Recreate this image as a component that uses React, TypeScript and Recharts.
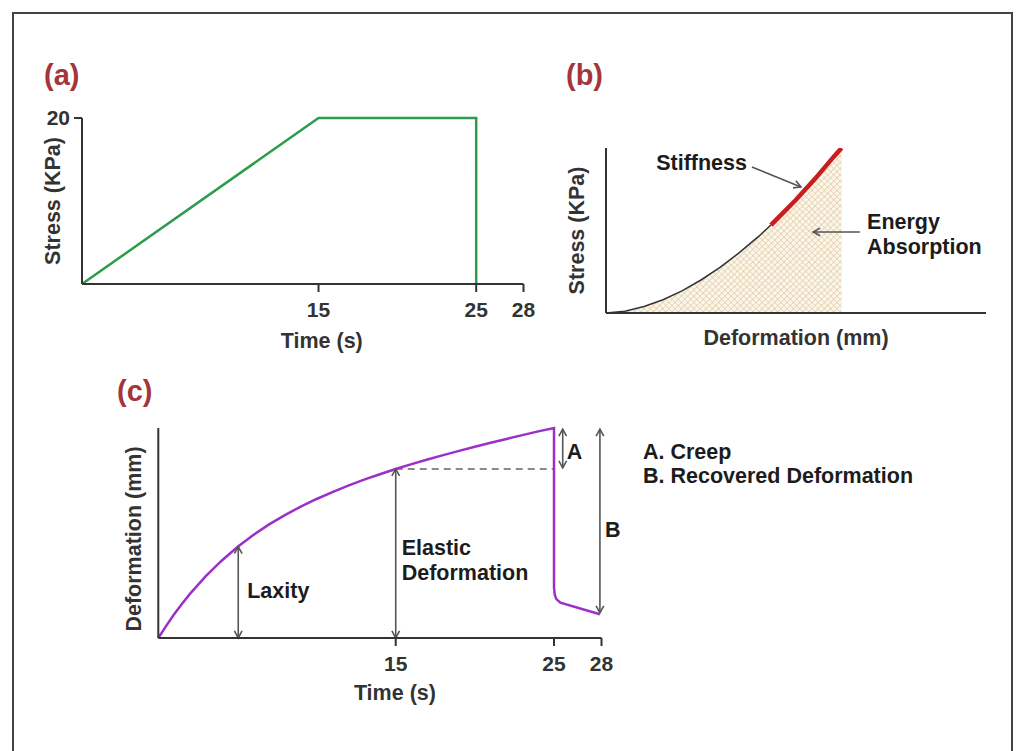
import React from 'react';
import { LineChart, ComposedChart, Line, Area, XAxis, YAxis, ReferenceLine, ReferenceDot } from 'recharts';

const W = 1018;
const H = 751;
const FONT = '"Liberation Sans", Arial, Helvetica, sans-serif';
const INK = '#1c1c1c';
const AXIS = '#333333';
const ARROW = '#555555';
const TITLE = '#a3353b';

// (a) applied stress over time
const aTime = [0, 15, 25, 25];
const aStress = [0, 20, 20, 0];
const aTicks = [15, 25, 28];

// (b) stress vs deformation, energy absorbed under the curve
const bDeform = [0, 5, 10, 15, 20, 25, 30, 35, 40, 43.4, 50, 55, 60, 62];
const bStress = [0, 1.1, 3.9, 8.0, 13.4, 20.0, 27.6, 36.4, 46.1, 53.3, 68.6, 81.3, 94.9, 100];
const bStiffFrom = 43.4;

// (c) deformation over time (creep then recovery)
const cTime = [0, 0.5, 1, 1.5, 2, 3, 4, 5, 6, 7, 8, 9, 10, 11, 12, 13, 14, 15, 16, 17, 18, 19, 20, 21, 22, 23, 24, 25, 25, 25.05, 25.15, 25.4, 27.9];
const cDeform = [0, 5.8, 11.3, 16.3, 21.0, 29.5, 36.8, 43.3, 49.0, 54.1, 58.5, 62.6, 66.2, 69.5, 72.6, 75.4, 78.0, 80.5, 82.8, 85.0, 87.1, 89.1, 91.1, 93.0, 94.8, 96.6, 98.4, 100, 24, 20.5, 18.5, 16.8, 11.3];
const cTicks = [15, 25, 28];
const cLaxityAt = 5.05;
const cElasticAt = 15;

const aData = aTime.map((t, i) => ({ t, s: aStress[i] }));
const bData = bDeform.map((x, i) => ({
  x,
  area: bStress[i],
  curve: x <= bStiffFrom ? bStress[i] : null,
  stiff: x >= bStiffFrom ? bStress[i] : null,
}));
const cData = cTime.map((t, i) => ({ t, d: cDeform[i] }));
const cAt = (t: number) => cDeform[cTime.indexOf(t)];

const tickStyle = { fill: '#333', fontSize: 21, fontWeight: 700 };
const axisLine = { stroke: AXIS, strokeWidth: 2 };
const titleLabel = { fill: '#333', fontSize: 21.5, fontWeight: 700 };

const Note = (props: any) => {
  const { viewBox, lines, anchor = 'start', dx = 0, dy = 0, lh = 25 } = props;
  if (!viewBox) return null;
  const x = viewBox.x + (viewBox.width || 0) / 2 + dx;
  const cy = viewBox.y + (viewBox.height || 0) / 2 + dy;
  return (
    <g>
      {lines.map((s: string, i: number) => (
        <text key={i} x={x} y={cy + (i - (lines.length - 1) / 2) * lh} textAnchor={anchor}
          dominantBaseline="central" fontSize={21.5} fontWeight={700} fill={INK}>{s}</text>
      ))}
    </g>
  );
};

const head = (x: number, y: number, ang: number) => {
  const L = 8, s = 0.5;
  return `M${x - L * Math.cos(ang - s)},${y - L * Math.sin(ang - s)} L${x},${y} L${x - L * Math.cos(ang + s)},${y - L * Math.sin(ang + s)}`;
};

const arrow = (both: boolean) => (p: any) => {
  const { x1, y1, x2, y2 } = p;
  const a = Math.atan2(y2 - y1, x2 - x1);
  return (
    <g>
      <line x1={x1} y1={y1} x2={x2} y2={y2} stroke={ARROW} strokeWidth={1.6} />
      <path d={head(x2, y2, a) + (both ? ' ' + head(x1, y1, a + Math.PI) : '')} fill="none" stroke={ARROW} strokeWidth={1.6} />
    </g>
  );
};

const Title = ({ text, left, top }: { text: string; left: number; top: number }) => (
  <div style={{ position: 'absolute', left, top, fontSize: 29, lineHeight: '30px', fontWeight: 700, color: TITLE }}>{text}</div>
);

const layer: React.CSSProperties = { position: 'absolute', left: 0, top: 0 };

export default function App() {
  return (
    <div style={{ position: 'absolute', left: 0, top: 0, width: W, height: H, overflow: 'hidden', background: '#fff', fontFamily: FONT }}>
      <div style={{ position: 'absolute', left: 12, top: 12, width: 1001, height: 800, border: '2px solid #444', boxSizing: 'border-box' }} />

      <Title text="(a)" left={44} top={60} />
      <Title text="(b)" left={566} top={60} />
      <Title text="(c)" left={117} top={376} />

      <div style={layer}>
        <LineChart width={W} height={H} data={aData} margin={{ top: 118, left: 22, right: W - 523.5, bottom: H - 284 - 112 }}>
          <XAxis type="number" dataKey="t" domain={[0, 28]} ticks={aTicks} tickSize={8} tickMargin={10}
            axisLine={axisLine} tickLine={axisLine} tick={tickStyle} height={112}
            label={{ value: 'Time (s)', position: 'center', dx: 19, ...titleLabel }} />
          <YAxis type="number" domain={[0, 20]} ticks={[20]} width={60} tickSize={8} tickMargin={4}
            axisLine={axisLine} tickLine={axisLine} tick={tickStyle}
            label={{ value: 'Stress (KPa)', angle: -90, position: 'center', ...titleLabel }} />
          <Line type="linear" dataKey="s" stroke="#2e9b4d" strokeWidth={2.5} dot={false} isAnimationActive={false} />
        </LineChart>
      </div>

      <div style={layer}>
        <ComposedChart width={W} height={H} data={bData} margin={{ top: 148, left: 546, right: W - 986, bottom: H - 313 - 48 }}>
          <defs>
            <pattern id="hatch" width={4.4} height={4.4} patternUnits="userSpaceOnUse" patternTransform="rotate(45)">
              <rect width={4.4} height={4.4} fill="#fcf6ea" />
              <path d="M0 0 H4.4 M0 0 V4.4" stroke="#d5bb8e" strokeWidth={1} />
            </pattern>
          </defs>
          <XAxis type="number" dataKey="x" domain={[0, 100]} tick={false} tickLine={false} axisLine={axisLine} height={48}
            label={{ value: 'Deformation (mm)', position: 'center', ...titleLabel }} />
          <YAxis type="number" domain={[0, 100]} allowDataOverflow tick={false} tickLine={false} axisLine={axisLine} width={60}
            label={{ value: 'Stress (KPa)', angle: -90, position: 'center', ...titleLabel }} />
          <Area type="linear" dataKey="area" stroke="none" fill="url(#hatch)" fillOpacity={1} isAnimationActive={false} />
          <Line type="linear" dataKey="curve" stroke="#333" strokeWidth={1.5} dot={false} connectNulls={false} isAnimationActive={false} />
          <Line type="linear" dataKey="stiff" stroke="#c81e1e" strokeWidth={4.5} dot={false} connectNulls={false} isAnimationActive={false} />
          <ReferenceLine segment={[{ x: 38.4, y: 88.5 }, { x: 51.3, y: 76.4 }]} shape={arrow(false)} />
          <ReferenceLine segment={[{ x: 66.8, y: 49.1 }, { x: 54.5, y: 49.1 }]} shape={arrow(false)} />
          <ReferenceDot x={37.1} y={90.9} r={0} fill="none" stroke="none" label={<Note lines={['Stiffness']} anchor="end" />} />
          <ReferenceDot x={68.7} y={47.6} r={0} fill="none" stroke="none" label={<Note lines={['Energy', 'Absorption']} />} />
        </ComposedChart>
      </div>

      <div style={layer}>
        <LineChart width={W} height={H} data={cData} margin={{ top: 428, left: 108.3, right: W - 601.5, bottom: H - 638 - 108 }}>
          <XAxis type="number" dataKey="t" domain={[0, 28]} ticks={cTicks} tickSize={8} tickMargin={10}
            axisLine={axisLine} tickLine={axisLine} tick={tickStyle} height={108}
            label={{ value: 'Time (s)', position: 'center', dx: 15, ...titleLabel }} />
          <YAxis type="number" domain={[0, 100]} tick={false} tickLine={false} axisLine={axisLine} width={50}
            label={{ value: 'Deformation (mm)', angle: -90, position: 'center', dy: 6, ...titleLabel }} />
          <ReferenceLine segment={[{ x: cElasticAt, y: cAt(cElasticAt) }, { x: 25, y: cAt(cElasticAt) }]}
            stroke="#666" strokeWidth={1.5} strokeDasharray="7 5" />
          <Line type="linear" dataKey="d" stroke="#9b30c9" strokeWidth={2.5} dot={false} isAnimationActive={false} />
          <ReferenceLine segment={[{ x: cLaxityAt, y: 0 }, { x: cLaxityAt, y: 43.5 }]} shape={arrow(true)} />
          <ReferenceLine segment={[{ x: cElasticAt, y: 0 }, { x: cElasticAt, y: cAt(cElasticAt) }]} shape={arrow(true)} />
          <ReferenceLine segment={[{ x: 25.55, y: 81 }, { x: 25.55, y: 99.5 }]} shape={arrow(true)} />
          <ReferenceLine segment={[{ x: 27.9, y: 12 }, { x: 27.9, y: 99.5 }]} shape={arrow(true)} />
          <ReferenceDot x={cLaxityAt} y={22.4} r={0} fill="none" stroke="none" label={<Note lines={['Laxity']} dx={9} />} />
          <ReferenceDot x={cElasticAt} y={36.9} r={0} fill="none" stroke="none" label={<Note lines={['Elastic', 'Deformation']} dx={6} />} />
          <ReferenceDot x={25.55} y={88.6} r={0} fill="none" stroke="none" label={<Note lines={['A']} dx={4} />} />
          <ReferenceDot x={27.9} y={51.4} r={0} fill="none" stroke="none" label={<Note lines={['B']} dx={5} />} />
        </LineChart>
      </div>

      <div style={{ position: 'absolute', left: 643, top: 440, fontSize: 21.5, lineHeight: '24px', fontWeight: 700, color: INK }}>
        <div>A. Creep</div>
        <div>B. Recovered Deformation</div>
      </div>
    </div>
  );
}
